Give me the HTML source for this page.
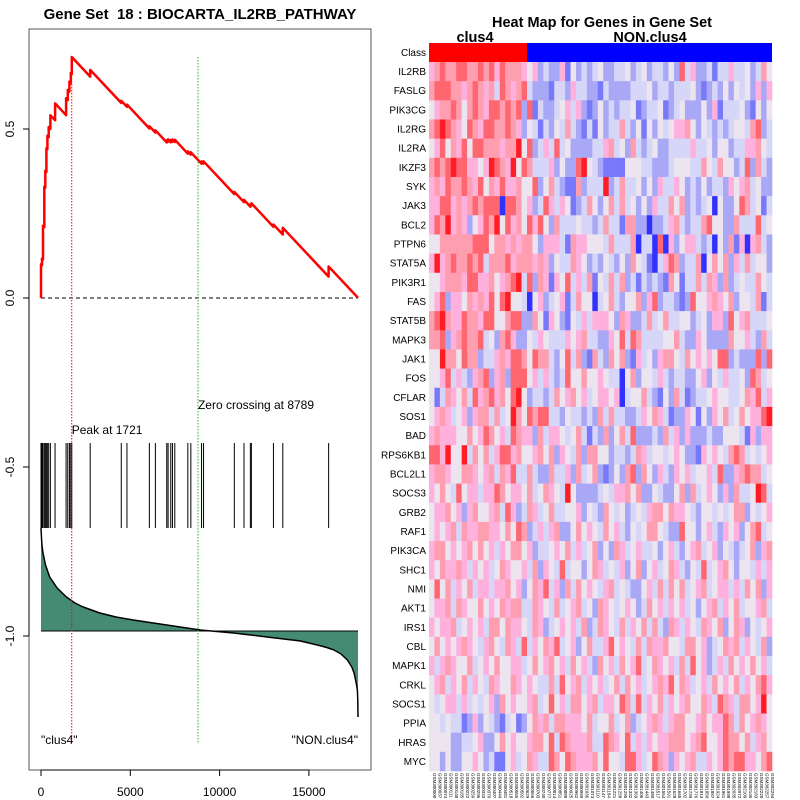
<!DOCTYPE html>
<html><head><meta charset="utf-8"><style>
html,body{margin:0;padding:0;background:#fff;}
svg{display:block;font-family:"Liberation Sans",sans-serif;}
</style></head><body>
<svg id="chart" width="800" height="800" viewBox="0 0 800 800" xmlns="http://www.w3.org/2000/svg">
<rect width="800" height="800" fill="#fff"/>
<text x="200" y="19" text-anchor="middle" font-size="15" font-weight="bold" style="white-space:pre">Gene Set  18 : BIOCARTA_IL2RB_PATHWAY</text>
<rect x="29" y="29" width="342" height="741" fill="none" stroke="#555" stroke-width="1"/>
<g id="left"></g>
<text x="602" y="27" text-anchor="middle" font-size="14.5" font-weight="bold">Heat Map for Genes in Gene Set</text>
<text x="475" y="42" text-anchor="middle" font-size="14.5" font-weight="bold">clus4</text>
<text x="650" y="42" text-anchor="middle" font-size="14.5" font-weight="bold">NON.clus4</text>
<g id="heat"></g>
</svg>
<script>
const NS="http://www.w3.org/2000/svg";
// ---- enrichment data ----
const N = 17750;
const hitRanks = [0,56,112,187,243,300,356,430,524,787,1404,1498,1592,1667,1723,2753,4494,4813,6067,6404,7041,7116,7266,7360,7491,8221,8390,8989,9101,10824,11367,11723,11779,13015,13539,16105];
const hitWeights = [0.10,0.02,0.10,0.12,0.05,0.07,0.04,0.03,0.04,0.05,0.05,0.03,0.03,0.03,0.05,0.02,0.0067,0.0067,0.0067,0.0067,0.0067,0.0067,0.0067,0.0067,0.0067,0.0067,0.0067,0.0067,0.0067,0.0067,0.0067,0.0067,0.0067,0.0067,0.02,0.03];
const metricRanks = [0,20,50,112,250,487,900,1423,1900,2360,3296,4200,5169,6100,7041,8914,10787,12659,14532,15468,16000,16405,16800,17154,17400,17528,17650,17715,17740,17750];
const metricValues = [1.03,0.95,0.86,0.78,0.66,0.54,0.43,0.34,0.28,0.24,0.18,0.14,0.11,0.085,0.06,0.01,-0.02,-0.06,-0.10,-0.14,-0.165,-0.19,-0.23,-0.29,-0.36,-0.42,-0.52,-0.59,-0.70,-0.86];
const peakRank = 1721, zeroCross = 8789;
const xTicks = [0,5000,10000,15000];
const yTicks = [0.5,0.0,-0.5,-1.0];
const yTickLabels = ["0.5","0.0","-0.5","-1.0"];

const xs = r => 41 + r*(89.3/5000);
const ys = v => 298 - v*338;
const my = m => 631 - m*100;

const L=document.getElementById('left');
function mk(tag,attrs,parent){const e=document.createElementNS(NS,tag);for(const k in attrs)e.setAttribute(k,attrs[k]);(parent||L).appendChild(e);return e;}

xTicks.forEach(t=>{
  const tk=mk('line',{x1:xs(t),x2:xs(t),y1:770,y2:776,stroke:'#000'});
  
  
  const tx=mk('text',{x:xs(t),y:796,'text-anchor':'middle','font-size':12});
  tx.textContent=t;
  
  
});
const xl=mk('line',{x1:xs(0),x2:xs(15000),y1:770,y2:770,stroke:'#000'});


yTicks.forEach((t,i)=>{
  const tk=mk('line',{x1:23,x2:29,y1:ys(t),y2:ys(t),stroke:'#000'});
  
  
  const tx=mk('text',{x:0,y:0,'text-anchor':'middle','font-size':12,transform:`translate(14,${ys(t)}) rotate(-90)`});
  tx.textContent=yTickLabels[i];
  
  
});
const yl=mk('line',{x1:29,x2:29,y1:ys(0.5),y2:ys(-1.0),stroke:'#000'});



let d=`M${xs(0)},631`;
metricRanks.forEach((r,i)=>{d+=` L${xs(r).toFixed(1)},${my(metricValues[i]).toFixed(1)}`;});
d+=` L${xs(N)},631 Z`;
const fillP=mk('path',{d:d,fill:'#458b74',stroke:'none'});


let d2='';
metricRanks.forEach((r,i)=>{d2+=(i?' L':'M')+xs(r).toFixed(1)+','+my(metricValues[i]).toFixed(1);});
const lineP=mk('path',{d:d2,fill:'none',stroke:'#000','stroke-width':1.5,'stroke-linejoin':'round'});


const base=mk('line',{x1:xs(0),x2:xs(N),y1:631,y2:631,stroke:'#000'});



hitRanks.forEach(r=>{
  const h=mk('line',{x1:xs(r),x2:xs(r),y1:443,y2:528,stroke:'#000','stroke-width':1});
  
  
});

const z=mk('line',{x1:xs(0),x2:xs(N),y1:ys(0),y2:ys(0),stroke:'#000','stroke-dasharray':'4,3'});



const pk=mk('line',{x1:xs(peakRank),x2:xs(peakRank),y1:57,y2:744,stroke:'#f00','stroke-dasharray':'1.5,1.5'});


const zc=mk('line',{x1:xs(zeroCross),x2:xs(zeroCross),y1:57,y2:744,stroke:'#0c0','stroke-dasharray':'1.5,1.5'});



let es=[[0,0]];let S=0;
hitRanks.forEach((r,i)=>{const before=S-r/N;es.push([r,before]);S+=hitWeights[i];es.push([r,S-r/N]);});
es.push([N,S-1]);
let d3='';
es.forEach((p,i)=>{d3+=(i?' L':'M')+xs(p[0]).toFixed(1)+','+ys(Math.max(p[1],0)).toFixed(1);});
const esP=mk('path',{d:d3,fill:'none',stroke:'#f00','stroke-width':2.5,'stroke-linejoin':'round'});



const t1=mk('text',{x:xs(peakRank),y:434,'font-size':12});t1.textContent='Peak at 1721';


const t2=mk('text',{x:xs(zeroCross),y:409,'font-size':12});t2.textContent='Zero crossing at 8789';


const t3=mk('text',{x:41,y:744,'font-size':12});t3.textContent='"clus4"';


const t4=mk('text',{x:358,y:744,'font-size':12,'text-anchor':'end'});t4.textContent='"NON.clus4"';



// ---- heatmap data ----
const genes=["IL2RB","FASLG","PIK3CG","IL2RG","IL2RA","IKZF3","SYK","JAK3","BCL2","PTPN6","STAT5A","PIK3R1","FAS","STAT5B","MAPK3","JAK1","FOS","CFLAR","SOS1","BAD","RPS6KB1","BCL2L1","SOCS3","GRB2","RAF1","PIK3CA","SHC1","NMI","AKT1","IRS1","CBL","MAPK1","CRKL","SOCS1","PPIA","HRAS","MYC"];
const nClus=18, nCols=63;
const matrix=[
"567667766767576665452322514232342233423423324273522313353342364",
"677766567656376567322213325332213222233342332333421232424342525",
"456676467657767672713223453521242323341233412342224251333421424",
"678765476577667652431324363213142336324142434556424323234436723",
"457465747766656684723537342222335634263234223333533424423355643",
"676787755458765847633352422784321111444332223444336436442372632",
"565766765746575564472463211623338236334242533542324233254563422",
"557756567677707764523753541236424636342425336462323404224763413",
"576856524576847564757426333433236331662202235632336744226333734",
"446666667774665656642555316554443633360330705245532304261505632",
"585676676736667566656524336542324324264310357623360464625363442",
"445666577556456783726515473536143636231323216413363652623433643",
"457255465657478443045234513644034632446257233212744565462443613",
"678655766577446772264154214353555426522363463344234255274563334",
"667256766734267522435433354563322547376333344632254222264453263",
"448664766233565776476632473621632646215342566436454547723222727",
"445735325672562777453532374464454330462443532332245243533427634",
"413654637567564784233236456453455450344632142631233454433465735",
"456534525663634864767733243323263633223546531225414254634645578",
"565554464576453765526355434631326246372223263525222322444315255",
"775844836463577564456462543626644233236534434542215454367634345",
"566544665456365733632263352634621242672642532545344537225676634",
"546437455355764554634654384222234355646224322462634542526334873",
"455645256445637523653463344524326434234356646554324434346624345",
"454563655665546476235356224645436453243466432274424532545246734",
"566454564645354664523345463534624265345334245324563452432346256",
"546556535453465445362543734424653435246245346532437345642443535",
"474635463553556452465735263645435634322453636463456345535364625",
"455636544645465663365436345634265434542364535453424563546344563",
"545563454536646554365234545362365436354636326535436546246524345",
"464545654356436537354657345246335745436365564436645234656354362",
"535654463454644553464564536453264536457346545363745235364546453",
"456354635436544654543363745635453463645345657465345364546354675",
"434553534345264544563474536645635547637354635456446537653664584",
"443433125243213412465636655546344634623456535664456455763645654",
"444422334522464544566473765556337654735354556664567445766463564",
"442422445423114534653376476555647443775347652545633545767755467"
];
const pal=["#3030ff","#7878fa","#a8a8f6","#d6d6f8","#ece4ee","#ffb0dc","#ff9eb0","#ff6670","#ff1c24"];

const H=document.getElementById('heat');
function hk(tag,attrs){const e=document.createElementNS(NS,tag);for(const k in attrs)e.setAttribute(k,attrs[k]);H.appendChild(e);return e;}
const hx0=429,hx1=772,cw=(hx1-hx0)/nCols,hy0=62,rh=(771-62)/genes.length;
const cx=j=>hx0+j*cw, ry=i=>hy0+i*rh;

const cr=hk('rect',{x:hx0,y:43,width:cx(nClus)-hx0,height:19,fill:'#ff0000'});


const cb=hk('rect',{x:cx(nClus),y:43,width:hx1-cx(nClus),height:19,fill:'#0000ff'});


const cl=hk('text',{x:426,y:56,'text-anchor':'end','font-size':10});cl.textContent='Class';



genes.forEach((g,i)=>{
  let row=(matrix[i]||'').padEnd(nCols,'4').slice(0,nCols);
  for(let j=0;j<nCols;j++){
    const c=hk('rect',{x:cx(j).toFixed(2),y:ry(i).toFixed(2),width:(cw+0.3).toFixed(2),height:(rh+0.3).toFixed(2),fill:pal[+row[j]]});
    
    
  }
  const t=hk('text',{x:426,y:(ry(i)+rh/2+3.5).toFixed(1),'text-anchor':'end','font-size':10});
  t.textContent=g;
  
  
});
for(let j=0;j<nCols;j++){
  const t=hk('text',{x:0,y:0,'font-size':4.5,fill:'#000',transform:`translate(${(cx(j)+cw/2+1.5).toFixed(1)},773) rotate(90)`});
  t.textContent='GSM'+(300000+j*37);
  
  
}
</script>
</body></html>
